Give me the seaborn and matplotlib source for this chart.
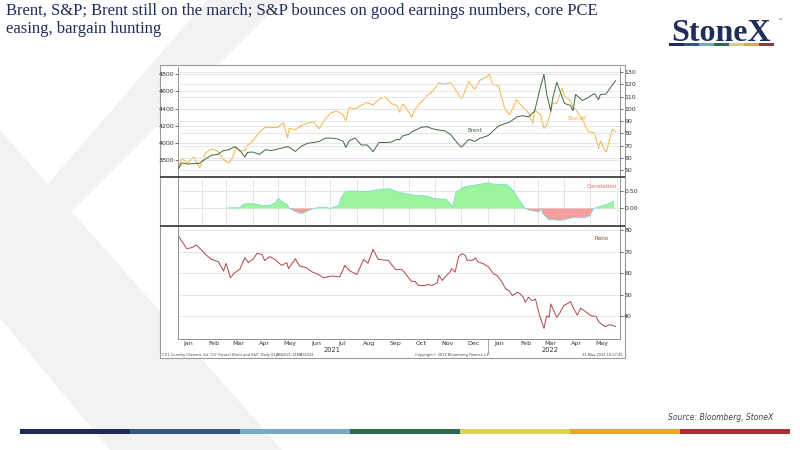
import matplotlib
matplotlib.use("Agg")
import matplotlib.dates as mdates
import matplotlib.pyplot as plt
import matplotlib.ticker as mticker
from matplotlib.patches import Polygon, Rectangle
import numpy as np
import pandas as pd
import seaborn as sns

sns.set_style("white")
plt.rcParams["font.family"] = ["DejaVu Sans"]

TITLE = ("Brent, S&P; Brent still on the march; S&P bounces on good earnings numbers, core PCE\n"
         "easing, bargain hunting")
SOURCE = "Source: Bloomberg, StoneX"
FOOT_LEFT = "CO1 Comdty (Generic 1st 'CO' Future) Brent and S&P  Daily 01JAN2021-31MAY2022"
FOOT_MID = "Copyright\u00a9 2022 Bloomberg Finance L.P."
FOOT_RIGHT = "31-May-2022 16:27:45"

# weekly closes plus a few turning points
PRICE_DATES = [
    "2021-01-04", "2021-01-08", "2021-01-15", "2021-01-22", "2021-01-29", "2021-02-05",
    "2021-02-12", "2021-02-19", "2021-02-26", "2021-03-04", "2021-03-08", "2021-03-12",
    "2021-03-19", "2021-03-23", "2021-03-26", "2021-04-01", "2021-04-09", "2021-04-16",
    "2021-04-23", "2021-04-30", "2021-05-07", "2021-05-12", "2021-05-14", "2021-05-21",
    "2021-05-28", "2021-06-04", "2021-06-11", "2021-06-18", "2021-06-25", "2021-07-02",
    "2021-07-09", "2021-07-16", "2021-07-19", "2021-07-23", "2021-07-30", "2021-08-06",
    "2021-08-13", "2021-08-20", "2021-08-27", "2021-09-03", "2021-09-10", "2021-09-17",
    "2021-09-20", "2021-09-24", "2021-10-01", "2021-10-04", "2021-10-08", "2021-10-15",
    "2021-10-22", "2021-10-29", "2021-11-05", "2021-11-12", "2021-11-19", "2021-11-26",
    "2021-12-01", "2021-12-03", "2021-12-10", "2021-12-17", "2021-12-23", "2021-12-31",
    "2022-01-03", "2022-01-07", "2022-01-14", "2022-01-21", "2022-01-27", "2022-02-04",
    "2022-02-11", "2022-02-18", "2022-02-23", "2022-02-25", "2022-03-04", "2022-03-08",
    "2022-03-11", "2022-03-16", "2022-03-18", "2022-03-23", "2022-03-29", "2022-04-01",
    "2022-04-08", "2022-04-11", "2022-04-14", "2022-04-22", "2022-04-29", "2022-05-06",
    "2022-05-11", "2022-05-13", "2022-05-19", "2022-05-20", "2022-05-27", "2022-05-31",
]
SPX = [
    3701, 3825, 3768, 3841, 3714, 3887, 3935, 3907, 3811, 3768, 3821, 3943,
    3913, 3911, 3975, 4020, 4129, 4185, 4180, 4181, 4233, 4063, 4174, 4156,
    4204, 4230, 4247, 4166, 4281, 4352, 4370, 4327, 4258, 4412, 4395, 4437,
    4468, 4442, 4509, 4535, 4459, 4433, 4358, 4455, 4357, 4300, 4391, 4471,
    4545, 4605, 4698, 4683, 4698, 4595, 4513, 4538, 4712, 4621, 4726, 4766,
    4797, 4677, 4663, 4398, 4327, 4501, 4419, 4349, 4226, 4385, 4329, 4171,
    4204, 4358, 4463, 4456, 4632, 4546, 4488, 4413, 4393, 4272, 4132, 4123,
    3935, 4024, 3901, 3901, 4158, 4132,
]
BRENT = [
    51.1, 56.0, 55.1, 55.4, 55.9, 59.3, 62.4, 62.9, 66.1, 66.7, 68.2, 69.2,
    64.5, 60.8, 64.6, 64.9, 63.0, 66.8, 66.1, 67.3, 68.3, 69.3, 68.7, 65.4,
    69.6, 71.9, 72.7, 73.5, 76.2, 76.2, 75.6, 73.6, 68.6, 74.1, 76.3, 70.7,
    70.6, 65.2, 72.7, 72.6, 72.9, 75.3, 74.9, 78.1, 79.3, 81.3, 82.4, 84.9,
    85.5, 83.7, 82.7, 82.2, 78.9, 72.7, 68.9, 69.9, 75.2, 73.5, 76.1, 77.8,
    79.0, 81.8, 86.1, 87.9, 89.3, 93.3, 94.4, 93.5, 96.8, 97.9, 118.1, 128.0,
    112.7, 98.0, 107.9, 121.6, 110.2, 104.4, 102.8, 98.5, 111.7, 106.7, 109.3, 112.4,
    107.5, 111.6, 112.0, 112.6, 119.4, 122.8,
]

CORR_DATES = [
    "2021-03-03", "2021-03-17", "2021-03-21", "2021-03-29", "2021-04-06", "2021-04-12",
    "2021-04-21", "2021-04-27", "2021-05-01", "2021-05-05", "2021-05-11", "2021-05-14",
    "2021-05-19", "2021-05-28", "2021-06-03", "2021-06-09", "2021-06-15", "2021-06-25",
    "2021-07-01", "2021-07-06", "2021-07-11", "2021-07-13", "2021-07-18", "2021-07-25",
    "2021-08-05", "2021-08-12", "2021-08-20", "2021-08-28", "2021-09-01", "2021-09-09",
    "2021-09-15", "2021-09-29", "2021-10-10", "2021-10-22", "2021-10-30", "2021-11-14",
    "2021-11-21", "2021-11-25", "2021-12-04", "2021-12-20", "2022-01-02", "2022-01-08",
    "2022-01-24", "2022-01-31", "2022-02-08", "2022-02-14", "2022-02-19", "2022-02-27",
    "2022-03-02", "2022-03-04", "2022-03-07", "2022-03-13", "2022-03-27", "2022-04-12",
    "2022-04-24", "2022-05-01", "2022-05-05", "2022-05-13", "2022-05-21", "2022-05-29",
]
CORR = [
    0.02, 0.02, 0.12, 0.14, 0.12, 0.08,
    0.09, 0.15, 0.28, 0.20, 0.12, 0.00,
    -0.06, -0.15, -0.08, -0.02, 0.02, 0.04,
    0.00, 0.05, 0.08, 0.28, 0.47, 0.49,
    0.48, 0.47, 0.50, 0.53, 0.54, 0.55,
    0.48, 0.40, 0.36, 0.35, 0.28, 0.25,
    0.06, 0.45, 0.60, 0.66, 0.72, 0.68,
    0.66, 0.50, 0.20, 0.00, -0.05, -0.08,
    -0.10, 0.00, -0.15, -0.30, -0.33, -0.25,
    -0.26, -0.20, 0.00, 0.06, 0.12, 0.20,
]

RATIO_DATES = [
    "2021-01-04", "2021-01-08", "2021-01-14", "2021-01-20", "2021-01-25", "2021-01-31",
    "2021-02-06", "2021-02-12", "2021-02-20", "2021-02-26", "2021-03-01", "2021-03-06",
    "2021-03-11", "2021-03-17", "2021-03-23", "2021-03-27", "2021-04-02", "2021-04-06",
    "2021-04-12", "2021-04-15", "2021-04-21", "2021-04-27", "2021-05-05", "2021-05-11",
    "2021-05-13", "2021-05-21", "2021-05-26", "2021-06-03", "2021-06-09", "2021-06-17",
    "2021-06-23", "2021-07-03", "2021-07-12", "2021-07-18", "2021-07-24", "2021-08-01",
    "2021-08-09", "2021-08-14", "2021-08-20", "2021-08-26", "2021-09-07", "2021-09-15",
    "2021-09-23", "2021-09-29", "2021-10-04", "2021-10-08", "2021-10-12", "2021-10-20",
    "2021-10-24", "2021-10-28", "2021-11-03", "2021-11-05", "2021-11-09", "2021-11-14",
    "2021-11-18", "2021-11-20", "2021-11-24", "2021-11-28", "2021-12-02", "2021-12-06",
    "2021-12-08", "2021-12-14", "2021-12-18", "2021-12-21", "2021-12-27", "2022-01-02",
    "2022-01-08", "2022-01-12", "2022-01-18", "2022-01-22", "2022-01-26", "2022-01-30",
    "2022-02-05", "2022-02-08", "2022-02-12", "2022-02-14", "2022-02-18", "2022-02-22",
    "2022-02-26", "2022-03-03", "2022-03-08", "2022-03-11", "2022-03-14", "2022-03-16",
    "2022-03-20", "2022-03-23", "2022-03-27", "2022-03-31", "2022-04-04", "2022-04-08",
    "2022-04-12", "2022-04-16", "2022-04-20", "2022-04-24", "2022-04-28", "2022-05-02",
    "2022-05-08", "2022-05-11", "2022-05-15", "2022-05-19", "2022-05-23", "2022-05-27",
    "2022-05-31",
]
RATIO = [
    77.4, 75.0, 71.5, 72.0, 73.2, 70.9,
    68.4, 66.5, 65.4, 61.1, 64.7, 58.0,
    60.3, 61.9, 67.3, 65.0, 66.8, 69.3,
    68.8, 66.0, 67.8, 66.5, 63.7, 65.0,
    62.2, 66.8, 63.4, 62.6, 60.8, 59.5,
    58.0, 58.8, 58.4, 63.7, 61.1, 59.5,
    66.5, 64.7, 71.2, 66.5, 66.0, 61.9,
    61.7, 58.8, 56.3, 56.3, 54.4, 54.4,
    54.8, 54.4, 55.6, 59.1, 56.7, 59.1,
    60.6, 62.2, 60.6, 67.7, 69.2, 68.4,
    66.1, 66.1, 67.2, 65.3, 64.5, 63.0,
    59.8, 59.1, 55.9, 52.8, 52.0, 49.7,
    51.2, 50.5, 48.9, 46.6, 48.9, 47.3,
    48.1, 40.3, 34.4, 40.3, 39.5, 45.8,
    42.2, 39.5, 41.9, 45.0, 45.8, 46.9,
    43.4, 40.6, 43.8, 42.7, 41.6, 40.3,
    40.0, 37.5, 36.3, 35.2, 36.1, 35.9,
    35.3,
]

STRIPE_COLORS = ["#1f2a5c", "#35577f", "#78a8c8", "#2b6b4f", "#ddd35a", "#eca534", "#a6303a"]

NAVY = "#1f2d5a"
SPX_COLOR = "#f5b342"
BRENT_COLOR = "#3f6847"
RATIO_COLOR = "#b04545"
GRID = "#e2e2e2"
SPINE = "#808080"

price_dates = pd.to_datetime(PRICE_DATES)
corr_dates = pd.to_datetime(CORR_DATES)
ratio_dates = pd.to_datetime(RATIO_DATES)
corr = np.array(CORR)

fig = plt.figure(figsize=(8, 4.5), dpi=100)

# slide background, pixel coordinates
bg = fig.add_axes([0, 0, 1, 1])
bg.set_xlim(0, 800)
bg.set_ylim(450, 0)
bg.axis("off")
bg.add_patch(Polygon([(207, 0), (283, 0), (70, 213), (47, 185)], closed=True, color="#f2f2f2", lw=0))
bg.add_patch(Polygon([(0, 130), (282, 450), (110, 450), (0, 318)], closed=True, color="#f2f2f2", lw=0))
for i, c in enumerate(STRIPE_COLORS):
    bg.add_patch(Rectangle((20 + i * 110, 429), 110, 5, color=c, lw=0))
for i, c in enumerate(STRIPE_COLORS):
    bg.add_patch(Rectangle((669 + i * 15, 42.5), 15, 3, color=c, lw=0))
bg.add_patch(Rectangle((160, 65), 465, 293, facecolor="white", edgecolor="#9a9a9a", lw=0.8))

bg.text(6, 3, TITLE, family="Liberation Serif", fontsize=12, color=NAVY, va="top", linespacing=1.2)
bg.text(721, 41, "StoneX", family="Liberation Serif", fontweight="bold", fontsize=23,
        color=NAVY, ha="center", va="baseline")
bg.text(777, 21, "\u2122", fontsize=3.5, color=NAVY, ha="left", va="center")
bg.text(773, 418, SOURCE, fontsize=5.5, style="italic", color="#444444", ha="right", va="center")

# chart panels
L, W = 178.3 / 800, (620 - 178.3) / 800
ax1 = fig.add_axes([L, 1 - 176.5 / 450, W, 109.5 / 450])
ax2 = fig.add_axes([L, 1 - 225 / 450, W, 47 / 450], sharex=ax1)
ax3 = fig.add_axes([L, 1 - 339 / 450, W, 112.5 / 450], sharex=ax1)
ax1r = ax1.twinx()

sns.lineplot(x=price_dates, y=SPX, ax=ax1, color=SPX_COLOR, linewidth=0.7)
sns.lineplot(x=price_dates, y=BRENT, ax=ax1r, color=BRENT_COLOR, linewidth=0.7)

ax2.fill_between(corr_dates, corr, 0, where=corr >= 0, interpolate=True, color="#9cf59c", lw=0)
ax2.fill_between(corr_dates, corr, 0, where=corr <= 0, interpolate=True, color="#f5a0a0", lw=0)
sns.lineplot(x=corr_dates, y=CORR, ax=ax2, color="#6ad8d8", linewidth=0.5)

sns.lineplot(x=ratio_dates, y=RATIO, ax=ax3, color=RATIO_COLOR, linewidth=0.7)

ax1.set_xlim(pd.Timestamp("2021-01-04"), pd.Timestamp("2022-06-05"))

ax1.set_ylim(3615, 4880)
ax1.set_yticks(range(3800, 4801, 200))
ax1r.set_ylim(45, 134)
ax1r.set_yticks(range(50, 131, 10))
ax2.set_ylim(-0.46, 0.85)
ax2.yaxis.tick_right()
ax2.set_yticks([0, 0.5])
ax2.yaxis.set_major_formatter(mticker.FormatStrFormatter("%.2f"))
ax3.set_ylim(29.5, 81.8)
ax3.yaxis.tick_right()
ax3.set_yticks(range(40, 81, 10))

for ax in (ax1, ax1r, ax2, ax3):
    ax.set_xlabel("")
    ax.set_ylabel("")
    ax.tick_params(axis="y", labelsize=4.5, length=2, width=0.5, pad=1, colors="#333333")
    ax.grid(False)
    for s in ax.spines.values():
        s.set_color(SPINE)
        s.set_linewidth(0.6)
        s.set_visible(False)
ax1.spines["left"].set_visible(True)
ax1r.spines["right"].set_visible(True)
ax2.spines["left"].set_visible(True)
ax2.spines["right"].set_visible(True)
for side in ("left", "right", "bottom"):
    ax3.spines[side].set_visible(True)

ax1.yaxis.grid(True, color=GRID, lw=0.6)
ax1r.yaxis.grid(True, color=GRID, lw=0.6)
ax2.yaxis.grid(True, color=GRID, lw=0.6)
ax2.xaxis.grid(True, which="major", color=GRID, lw=0.6)
ax3.yaxis.grid(True, color=GRID, lw=0.6)

ax3.xaxis.set_major_locator(mdates.MonthLocator())
ax3.xaxis.set_major_formatter(mticker.NullFormatter())
ax3.xaxis.set_minor_locator(mdates.MonthLocator(bymonthday=15))
ax3.xaxis.set_minor_formatter(mdates.DateFormatter("%b"))
ax3.tick_params(axis="x", which="major", length=2, width=0.5, colors=SPINE)
ax3.tick_params(axis="x", which="minor", length=0, labelsize=4.5, pad=1.5, labelcolor="#333333")
for ax in (ax1, ax1r, ax2):
    ax.tick_params(axis="x", which="both", length=0, labelbottom=False)

trans = ax3.get_xaxis_transform()
ax3.text(pd.Timestamp("2021-07-03"), -0.075, "2021", transform=trans, ha="center", va="top",
         fontsize=4.8, color="#333333")
ax3.text(pd.Timestamp("2022-03-15"), -0.075, "2022", transform=trans, ha="center", va="top",
         fontsize=4.8, color="#333333")
sep = mdates.date2num(pd.Timestamp("2022-01-01"))
ax3.plot([sep, sep], [0, -0.12], transform=trans, clip_on=False, color=SPINE, lw=0.5)

# overlay: panel separators, series labels, footer
ov = fig.add_axes([0, 0, 1, 1])
ov.set_zorder(10)
ov.patch.set_visible(False)
ov.set_xlim(0, 800)
ov.set_ylim(450, 0)
ov.axis("off")
for y in (177.3, 225.8):
    ov.plot([160, 625], [y, y], color="#404040", lw=1.3, solid_capstyle="butt")
ov.text(475, 131, "Brent", fontsize=4, color=BRENT_COLOR, ha="center", va="center")
ov.text(577, 118, "StandP", fontsize=4, color=SPX_COLOR, ha="center", va="center")
ov.text(602, 187, "Correlation", fontsize=4, color="#f06060", ha="center", va="center")
ov.text(602, 238, "Ratio", fontsize=4, color="#8b4a3a", ha="center", va="center")
ov.text(162, 355, FOOT_LEFT, fontsize=2.6, color="#444444", ha="left", va="center")
ov.text(415, 355, FOOT_MID, fontsize=2.6, color="#444444", ha="left", va="center")
ov.text(623, 355, FOOT_RIGHT, fontsize=2.6, color="#444444", ha="right", va="center")

fig.savefig("out.png", dpi=100)
